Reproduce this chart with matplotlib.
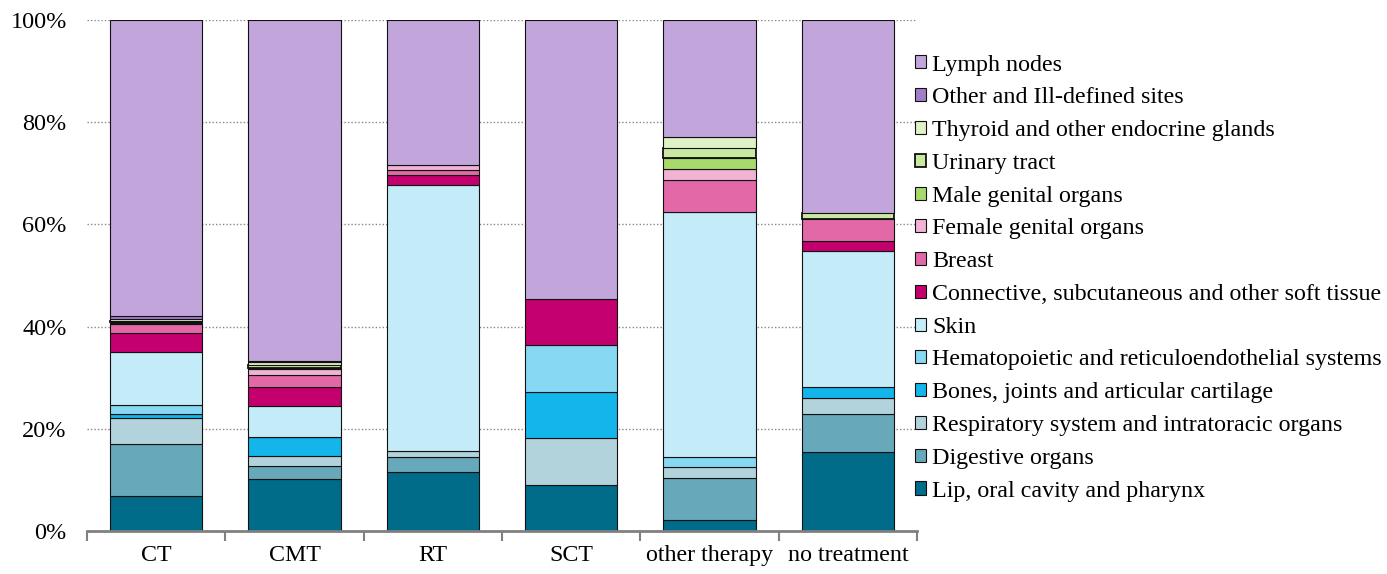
import matplotlib
matplotlib.use("Agg")
import matplotlib.pyplot as plt
import numpy as np

categories = ["CT", "CMT", "RT", "SCT", "other therapy", "no treatment"]

series_names = [
    "Lip, oral cavity and pharynx",
    "Digestive organs",
    "Respiratory system and intratoracic organs",
    "Bones, joints and articular cartilage",
    "Hematopoietic and reticuloendothelial systems",
    "Skin",
    "Connective, subcutaneous and other soft tissue",
    "Breast",
    "Female genital organs",
    "Male genital organs",
    "Urinary tract",
    "Thyroid and other endocrine glands",
    "Other and Ill-defined sites",
    "Lymph nodes",
]

lip = [6.8, 10.2, 11.5, 9.09, 2.08, 15.5]
digestive = [10.2, 2.5, 3.0, 0.0, 8.33, 7.4]
respiratory = [5.1, 1.9, 1.1, 9.09, 2.08, 3.2]
bones = [0.7, 3.7, 0.0, 9.09, 0.0, 2.1]
hemato = [1.9, 0.1, 0.0, 9.09, 2.08, 0.0]
skin = [10.3, 6.0, 52.1, 0.0, 47.92, 26.5]
connective = [3.8, 3.7, 1.9, 9.09, 0.0, 2.1]
breast = [1.8, 2.5, 1.0, 0.0, 6.25, 4.2]
female = [0.2, 1.2, 1.0, 0.0, 2.08, 0.0]
male = [0.1, 0.1, 0.0, 0.0, 2.08, 0.0]
urinary = [0.1, 0.5, 0.0, 0.0, 2.08, 1.2]
thyroid = [0.4, 0.7, 0.0, 0.0, 2.08, 0.0]
other_sites = [0.7, 0.1, 0.0, 0.0, 0.0, 0.0]
lymph = [57.9, 66.8, 28.4, 54.55, 22.92, 37.8]

series_values = [lip, digestive, respiratory, bones, hemato, skin, connective,
                 breast, female, male, urinary, thyroid, other_sites, lymph]

colors = ["#006c8a", "#67a8ba", "#b2d3dc", "#13b5ea", "#87d9f3", "#c3ecf8",
          "#c4006f", "#e368a8", "#f0b3d4", "#a8d96b", "#c9e8a0", "#dff1c6",
          "#a27ec9", "#c1a5db"]

yticks = [0, 20, 40, 60, 80, 100]
ytick_labels = ["0%", "20%", "40%", "60%", "80%", "100%"]

plt.rcParams['font.family'] = ['Liberation Serif', 'DejaVu Serif']

fig = plt.figure(figsize=(13.87, 5.74), dpi=100)
ax = fig.add_axes([87/1387, 1-531/574, (917-87)/1387, (531-20)/574])

data = np.array(series_values, dtype=float)
totals = data.sum(axis=0)
data = data / totals * 100.0

x = np.arange(len(categories))
bottom = np.zeros(len(categories))
handles = []
for i, (name, vals) in enumerate(zip(series_names, data)):
    lw = 1.3 if name == "Urinary tract" else 0.8
    bars = ax.bar(x, vals, width=0.667, bottom=bottom, color=colors[i],
                  edgecolor="#111111", linewidth=lw, zorder=3, label=name)
    for b in bars:
        b.set_linewidth(lw if b.get_height() > 0 else 0)
    handles.append(bars)
    bottom += vals

ax.set_xlim(-0.5, len(categories) - 0.5)
ax.set_ylim(0, 100)
ax.set_yticks(yticks)
ax.set_yticklabels(ytick_labels)
ax.set_xticks(x)
ax.set_xticklabels(categories)
ax.set_xticks(np.arange(-0.5, len(categories)), minor=True)
ax.tick_params(axis='x', which='major', length=0, pad=10, labelsize=17.3)
ax.tick_params(axis='x', which='minor', length=7, color="#808080", width=1.5)
ax.tick_params(axis='y', length=0, pad=14.5, labelsize=17.5)
ax.yaxis.grid(True, linestyle=(0, (1, 1.5)), color="#888888", linewidth=1.0, zorder=0)
ax.set_axisbelow(True)
for s in ["left", "right", "top"]:
    ax.spines[s].set_visible(False)
ax.spines["bottom"].set_color("#808080")
ax.spines["bottom"].set_linewidth(2)
ax.spines["bottom"].set_zorder(4)

leg = fig.legend(handles[::-1], series_names[::-1], loc="upper left",
                 bbox_to_anchor=(915/1387, 1-54.5/574), frameon=False,
                 fontsize=17.3, handlelength=0.46, handleheight=0.46,
                 handletextpad=0.25, labelspacing=0.49, borderpad=0,
                 borderaxespad=0)

fig.savefig("out.png", dpi=100)
